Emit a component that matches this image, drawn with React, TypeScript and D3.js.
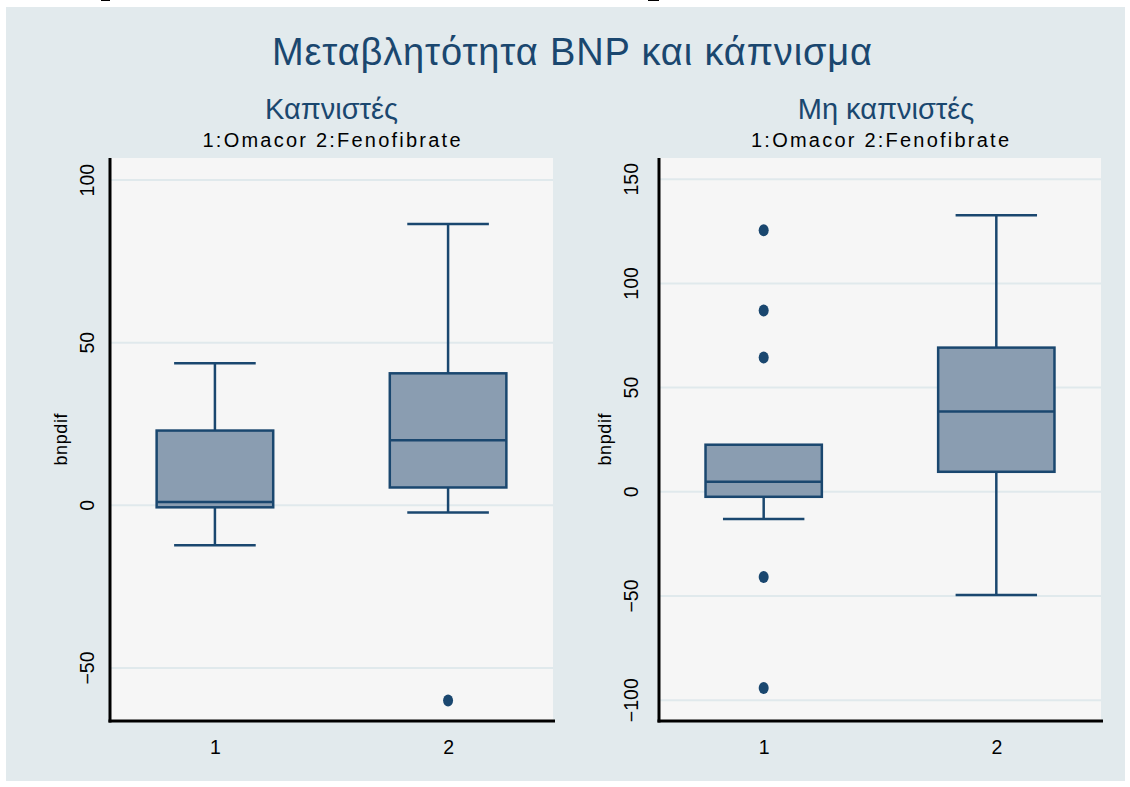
import { useRef, useEffect } from "react";
import * as d3 from "d3";

const categories = ["1", "2"];

// Smokers (left panel)
const smokersLow = [-12.3, -2.2];
const smokersQ1 = [-0.6, 5.5];
const smokersMedian = [1, 20];
const smokersQ3 = [23, 40.6];
const smokersHigh = [43.7, 86.5];
const smokersOutliers = [[], [-60]];
const smokersTicks = [-50, 0, 50, 100];

// Non-smokers (right panel)
const nonSmokersLow = [-13, -49.5];
const nonSmokersQ1 = [-2.4, 9.6];
const nonSmokersMedian = [4.8, 38.5];
const nonSmokersQ3 = [22.6, 69.2];
const nonSmokersHigh = [22.6, 132.7];
const nonSmokersOutliers = [[125.5, 87, 64.4, -40.9, -94.2], []];
const nonSmokersTicks = [-100, -50, 0, 50, 100, 150];

const NAVY = "#1a476f";
const FILL = "#8a9db1";
const FONT = "'Liberation Sans', Arial, sans-serif";

export default function App() {
  const ref = useRef<SVGSVGElement>(null);

  function init() {
    document.body.style.margin = "0";
    const svg = d3.select(ref.current);
    svg.selectAll("*").remove();

    svg.append("rect").attr("width", 1130).attr("height", 787).attr("fill", "#ffffff");
    svg.append("rect")
      .attr("x", 6).attr("y", 7).attr("width", 1119).attr("height", 774)
      .attr("fill", "#e2eaed");

    // main title
    svg.append("text")
      .attr("x", 572).attr("y", 65)
      .attr("text-anchor", "middle")
      .attr("font-family", FONT).attr("font-size", 38)
      .attr("fill", NAVY)
      .attr("textLength", 600).attr("lengthAdjust", "spacing")
      .text("Μεταβλητότητα BNP και κάπνισμα");

    const panels = [
      {
        title: "Καπνιστές", left: 110, right: 553, domain: [-66.3, 106.8],
        tick: 9, labelOff: 16.5,
        ticks: smokersTicks, low: smokersLow, q1: smokersQ1, med: smokersMedian,
        q3: smokersQ3, high: smokersHigh, out: smokersOutliers,
      },
      {
        title: "Μη καπνιστές", left: 659, right: 1101, domain: [-110, 160.2],
        tick: 11, labelOff: 21,
        ticks: nonSmokersTicks, low: nonSmokersLow, q1: nonSmokersQ1, med: nonSmokersMedian,
        q3: nonSmokersQ3, high: nonSmokersHigh, out: nonSmokersOutliers,
      },
    ];

    const top = 158, bottom = 721;

    panels.forEach((p) => {
      const cx = (p.left + p.right) / 2;
      const x = d3.scalePoint().domain(categories).range([p.left, p.right]).padding(0.45);
      const y = d3.scaleLinear().domain(p.domain).range([bottom, top]);
      const boxW = x.step() * 0.5;
      const capW = boxW * 0.7;

      // titles
      svg.append("text")
        .attr("x", cx + (p.left > 600 ? 6 : 0)).attr("y", 119)
        .attr("text-anchor", "middle")
        .attr("font-family", FONT).attr("font-size", 29)
        .attr("fill", NAVY)
        .text(p.title);
      svg.append("text")
        .attr("x", cx).attr("y", 147)
        .attr("text-anchor", "middle")
        .attr("font-family", FONT).attr("font-size", 20)
        .attr("fill", "#000")
        .attr("textLength", 258).attr("lengthAdjust", "spacing")
        .text("1:Omacor 2:Fenofibrate");

      // plot region
      svg.append("rect")
        .attr("x", p.left).attr("y", top)
        .attr("width", p.right - p.left).attr("height", bottom - top)
        .attr("fill", "#f6f6f6");

      // gridlines
      svg.append("g").selectAll("line").data(p.ticks).join("line")
        .attr("x1", p.left).attr("x2", p.right)
        .attr("y1", (d) => y(d)).attr("y2", (d) => y(d))
        .attr("stroke", "#e0e9ec").attr("stroke-width", 2);

      // boxes
      const g = svg.append("g");
      categories.forEach((c, i) => {
        const xc = x(c)!;
        g.append("line")
          .attr("x1", xc).attr("x2", xc).attr("y1", y(p.q3[i])).attr("y2", y(p.high[i]))
          .attr("stroke", NAVY).attr("stroke-width", 2.5);
        g.append("line")
          .attr("x1", xc).attr("x2", xc).attr("y1", y(p.q1[i])).attr("y2", y(p.low[i]))
          .attr("stroke", NAVY).attr("stroke-width", 2.5);
        if (p.high[i] > p.q3[i]) {
          g.append("line")
            .attr("x1", xc - capW / 2).attr("x2", xc + capW / 2)
            .attr("y1", y(p.high[i])).attr("y2", y(p.high[i]))
            .attr("stroke", NAVY).attr("stroke-width", 2.5);
        }
        g.append("line")
          .attr("x1", xc - capW / 2).attr("x2", xc + capW / 2)
          .attr("y1", y(p.low[i])).attr("y2", y(p.low[i]))
          .attr("stroke", NAVY).attr("stroke-width", 2.5);
        g.append("rect")
          .attr("x", xc - boxW / 2).attr("width", boxW)
          .attr("y", y(p.q3[i])).attr("height", y(p.q1[i]) - y(p.q3[i]))
          .attr("fill", FILL).attr("stroke", NAVY).attr("stroke-width", 2.5);
        g.append("line")
          .attr("x1", xc - boxW / 2).attr("x2", xc + boxW / 2)
          .attr("y1", y(p.med[i])).attr("y2", y(p.med[i]))
          .attr("stroke", NAVY).attr("stroke-width", 2.5);
        g.selectAll(null).data(p.out[i]).join("ellipse")
          .attr("cx", xc).attr("cy", (d) => y(d))
          .attr("rx", 5).attr("ry", 6)
          .attr("fill", NAVY);
      });

      // y axis
      const yAxis = svg.append("g")
        .attr("transform", `translate(${p.left},0)`)
        .call(d3.axisLeft(y).tickValues(p.ticks).tickSize(p.tick).tickSizeOuter(0));
      yAxis.select(".domain").remove();
      yAxis.append("line")
        .attr("x1", 0).attr("x2", 0).attr("y1", top).attr("y2", bottom + 1.5)
        .attr("stroke", "#000").attr("stroke-width", 3);
      yAxis.selectAll(".tick line").attr("stroke", "#000").attr("stroke-width", 2);
      yAxis.selectAll(".tick text")
        .attr("font-family", FONT).attr("font-size", 19.5).attr("fill", "#000")
        .attr("text-anchor", "middle")
        .attr("transform", "rotate(-90)")
        .attr("x", (d) => -y(d as number))
        .attr("y", -p.labelOff)
        .attr("dy", "0");
      yAxis.selectAll(".tick").attr("transform", null);

      // x axis
      const xAxis = svg.append("g")
        .attr("transform", `translate(0,${bottom})`)
        .call(d3.axisBottom(x).tickSize(0).tickPadding(0));
      xAxis.select(".domain").remove();
      xAxis.append("line")
        .attr("x1", p.left - 1.5).attr("x2", p.right + 2)
        .attr("stroke", "#000").attr("stroke-width", 3);
      xAxis.selectAll(".tick text")
        .attr("font-family", FONT).attr("font-size", 19.5).attr("fill", "#000")
        .attr("y", 33).attr("dy", "0");

      // y label
      svg.append("text")
        .attr("transform", `translate(${p.left - (p.labelOff + 27)},${(top + bottom) / 2}) rotate(-90)`)
        .attr("text-anchor", "middle")
        .attr("font-family", FONT).attr("font-size", 18)
        .attr("fill", "#000")
        .attr("textLength", 52).attr("lengthAdjust", "spacing")
        .text("bnpdif");
    });
  }

  useEffect(init, []);

  return <svg ref={ref} width={1130} height={787} style={{ display: "block" }} />;
}
